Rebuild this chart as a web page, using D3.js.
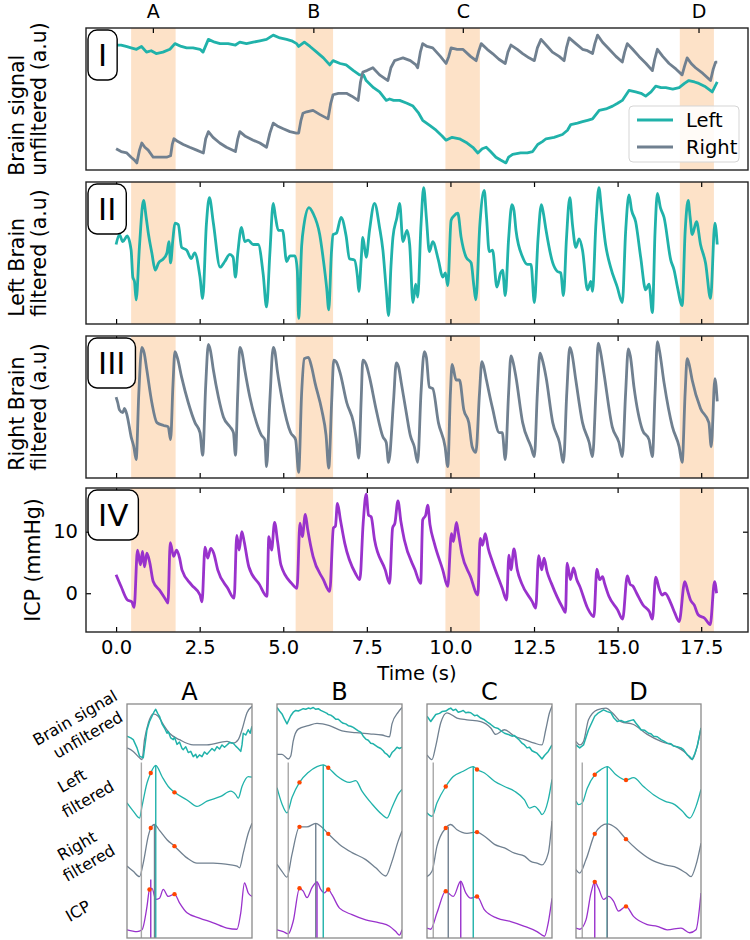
<!DOCTYPE html>
<html><head><meta charset="utf-8">
<script src="https://cdn.jsdelivr.net/npm/d3@7"></script>
<style>body{margin:0;background:#fff} text{font-family:"DejaVu Sans",sans-serif;fill:#000}</style>
</head><body><svg id="c" width="750" height="940"></svg>
<script>
// ---------------- DATA ----------------
const xTicks = [0, 2.5, 5, 7.5, 10, 12.5, 15, 17.5];
const icpTicks = [0, 10];
const bandNames = ["A", "B", "C", "D"];
const bandStart = [0.45, 5.37, 9.85, 16.86];
const bandEnd = [1.78, 6.49, 10.88, 17.88];
const bandLabelT = [1.1, 5.9, 10.37, 17.42];
const panelNames = ["I", "II", "III", "IV"];
const legendNames = ["Left", "Right"];

// Panel I: unfiltered brain signals (a.u, 0-100)
const leftRaw = [[0.00,88],[0.15,88],[0.30,87],[0.45,86],[0.61,85],[0.76,87],[0.91,83],[1.05,84],[1.20,82],[1.40,83],[1.61,85],[1.76,89],[1.95,87],[2.11,86],[2.30,86],[2.51,85],[2.60,83],[2.76,92],[2.95,90],[3.11,89],[3.35,89],[3.57,88],[3.70,90],[3.90,89],[4.10,90],[4.30,91],[4.50,92],[4.70,95],[4.90,93],[5.10,92],[5.25,91],[5.40,89],[5.46,87],[5.63,90],[5.80,87],[6.00,83],[6.20,79],[6.39,74],[6.49,77],[6.70,75],[6.88,74],[7.10,70],[7.28,67],[7.40,67],[7.48,63],[7.70,58],[7.88,55],[8.08,49],[8.18,50],[8.30,49],[8.48,49],[8.70,47],[8.88,45],[9.05,40],[9.17,35],[9.40,31],[9.57,28],[9.75,24],[9.87,21],[10.05,23],[10.27,22],[10.50,19],[10.67,16],[10.82,12],[10.95,15],[11.07,16],[11.20,13],[11.36,9],[11.50,7],[11.66,5],[11.74,9],[11.86,11],[12.10,12],[12.30,12],[12.46,13],[12.61,18],[12.75,20],[12.86,22],[13.10,23],[13.35,25],[13.50,28],[13.60,32],[13.80,33],[13.95,34],[14.10,35],[14.25,36],[14.45,42],[14.65,43],[14.85,45],[15.00,47],[15.14,49],[15.34,56],[15.54,55],[15.70,54],[15.84,52],[16.00,55],[16.14,59],[16.30,58],[16.44,58],[16.65,57],[16.84,58],[17.00,61],[17.13,63],[17.30,62],[17.43,61],[17.60,59],[17.83,55],[17.98,62]];
const rightRaw = [[0.00,15],[0.15,13],[0.32,12],[0.45,9],[0.55,7],[0.62,5],[0.70,14],[0.77,19],[0.86,16],[0.96,14],[1.11,9],[1.30,9],[1.51,9],[1.63,10],[1.68,18],[1.73,22],[1.85,20],[2.01,18],[2.20,16],[2.41,14],[2.61,12],[2.68,22],[2.76,27],[2.90,23],[3.10,19],[3.30,16],[3.57,13],[3.64,22],[3.70,27],[3.85,24],[4.10,21],[4.30,19],[4.50,16],[4.60,26],[4.70,33],[4.82,31],[5.00,29],[5.20,27],[5.39,26],[5.46,26],[5.53,35],[5.59,40],[5.70,41],[5.89,42],[6.10,39],[6.34,36],[6.42,47],[6.49,53],[6.65,54],[6.89,54],[7.05,52],[7.24,49],[7.31,62],[7.38,69],[7.50,70],[7.68,72],[7.88,67],[8.13,63],[8.22,72],[8.33,77],[8.45,78],[8.58,79],[8.80,77],[8.97,74],[9.02,72],[9.10,83],[9.17,89],[9.30,87],[9.47,86],[9.70,80],[9.87,75],[9.95,80],[10.02,86],[10.20,85],[10.37,85],[10.60,80],[10.77,77],[10.85,84],[10.92,89],[11.10,85],[11.26,82],[11.45,78],[11.64,75],[11.72,83],[11.81,88],[12.00,85],[12.16,82],[12.35,79],[12.51,77],[12.60,86],[12.71,92],[12.90,87],[13.05,83],[13.25,80],[13.40,77],[13.47,86],[13.55,93],[13.75,89],[13.95,85],[14.10,84],[14.25,82],[14.32,89],[14.40,95],[14.55,90],[14.75,85],[14.95,80],[15.14,76],[15.21,83],[15.29,89],[15.45,85],[15.64,80],[15.85,75],[16.04,70],[16.11,78],[16.19,85],[16.35,80],[16.54,75],[16.75,71],[16.93,67],[17.00,73],[17.08,79],[17.20,75],[17.33,72],[17.55,68],[17.78,63],[17.86,71],[17.93,76],[17.98,76]];

// Panel II: Left brain filtered (a.u, 0-100)
const leftFilt = [[0.00,56],[0.10,63],[0.20,58],[0.33,62],[0.45,52],[0.50,33],[0.55,30],[0.60,17],[0.70,55],[0.82,87],[0.90,75],[0.97,63],[1.07,50],[1.17,38],[1.27,43],[1.42,46],[1.52,50],[1.58,58],[1.63,43],[1.70,60],[1.76,71],[1.86,70],[1.96,54],[2.11,52],[2.25,46],[2.35,50],[2.51,33],[2.59,18],[2.70,70],[2.79,89],[2.91,71],[3.11,40],[3.25,44],[3.40,49],[3.50,47],[3.57,33],[3.64,50],[3.75,68],[3.85,58],[3.95,59],[4.10,56],[4.25,56],[4.40,35],[4.50,12],[4.60,50],[4.70,85],[4.77,75],[4.85,66],[4.98,66],[5.10,44],[5.20,48],[5.35,48],[5.42,38],[5.46,4],[5.55,55],[5.62,70],[5.77,82],[5.89,78],[6.09,63],[6.20,45],[6.30,25],[6.36,10],[6.44,50],[6.49,63],[6.59,64],[6.73,75],[6.88,62],[6.98,46],[7.13,45],[7.22,33],[7.26,23],[7.33,45],[7.38,61],[7.48,47],[7.58,66],[7.73,85],[7.88,68],[7.98,52],[8.08,24],[8.15,6],[8.22,40],[8.28,61],[8.40,75],[8.48,85],[8.58,58],[8.70,66],[8.78,56],[8.88,15],[8.96,28],[9.02,19],[9.12,70],[9.20,96],[9.28,75],[9.37,51],[9.47,58],[9.64,45],[9.77,33],[9.85,36],[9.92,27],[10.02,73],[10.10,76],[10.22,78],[10.32,61],[10.47,47],[10.62,43],[10.70,27],[10.76,17],[10.88,70],[11.01,94],[11.08,75],[11.16,51],[11.26,52],[11.39,26],[11.50,36],[11.56,38],[11.64,20],[11.74,60],[11.84,84],[11.90,80],[11.96,66],[12.16,47],[12.30,42],[12.41,42],[12.51,15],[12.62,60],[12.72,84],[12.78,78],[12.86,66],[13.06,43],[13.20,37],[13.30,36],[13.38,20],[13.47,60],[13.57,89],[13.65,70],[13.75,54],[13.85,60],[13.95,52],[14.10,24],[14.20,30],[14.25,23],[14.35,70],[14.44,96],[14.52,80],[14.64,56],[14.79,40],[14.99,26],[15.14,15],[15.24,65],[15.34,91],[15.42,80],[15.54,72],[15.69,47],[15.84,24],[15.94,28],[16.04,8],[16.12,65],[16.19,92],[16.28,82],[16.39,75],[16.59,45],[16.69,38],[16.79,26],[16.93,13],[17.02,65],[17.11,87],[17.17,75],[17.23,63],[17.36,72],[17.48,56],[17.63,43],[17.78,18],[17.91,71],[17.98,56]];

// Panel III: Right brain filtered (a.u, 0-100)
const rightFilt = [[0.00,57],[0.05,53],[0.10,48],[0.20,46],[0.25,49],[0.33,44],[0.45,29],[0.53,22],[0.60,13],[0.68,60],[0.77,92],[0.84,88],[0.92,76],[1.07,53],[1.22,39],[1.42,37],[1.56,36],[1.63,27],[1.70,65],[1.76,89],[1.84,84],[1.96,71],[2.16,53],[2.36,39],[2.51,32],[2.59,16],[2.68,65],[2.76,94],[2.82,90],[2.91,76],[3.06,57],[3.21,43],[3.41,36],[3.51,32],[3.57,16],[3.64,60],[3.70,92],[3.76,89],[3.85,76],[4.00,57],[4.20,39],[4.35,30],[4.45,27],[4.50,8],[4.60,55],[4.70,92],[4.75,89],[4.82,76],[4.97,55],[5.22,32],[5.37,27],[5.46,4],[5.55,60],[5.63,84],[5.75,85],[5.85,78],[5.95,67],[6.15,48],[6.28,30],[6.36,7],[6.45,55],[6.51,83],[6.58,82],[6.70,74],[6.90,53],[7.10,39],[7.18,28],[7.26,14],[7.33,55],[7.38,83],[7.48,80],[7.58,71],[7.78,48],[7.98,29],[8.08,25],[8.15,11],[8.30,55],[8.38,81],[8.45,78],[8.53,67],[8.68,46],[8.80,30],[8.92,22],[9.02,11],[9.12,60],[9.22,89],[9.28,85],[9.37,64],[9.47,63],[9.64,39],[9.84,22],[9.92,8],[10.00,60],[10.05,80],[10.17,69],[10.27,69],[10.40,48],[10.55,39],[10.65,22],[10.76,18],[10.87,60],[10.94,82],[11.00,78],[11.06,71],[11.26,49],[11.46,32],[11.55,32],[11.64,13],[11.74,60],[11.81,86],[11.87,82],[11.96,71],[12.16,39],[12.41,22],[12.51,15],[12.60,60],[12.68,88],[12.74,84],[12.86,71],[13.06,39],[13.26,25],[13.38,11],[13.48,60],[13.57,92],[13.63,88],[13.75,69],[13.95,39],[14.15,25],[14.25,15],[14.35,60],[14.42,95],[14.48,90],[14.59,74],[14.84,36],[15.04,25],[15.14,15],[15.24,60],[15.32,91],[15.38,86],[15.49,64],[15.74,34],[15.94,27],[16.04,15],[16.12,60],[16.19,96],[16.25,90],[16.39,67],[16.64,36],[16.84,22],[16.93,11],[17.02,60],[17.08,84],[17.14,80],[17.23,69],[17.48,49],[17.73,39],[17.80,22],[17.91,70],[17.98,54]];

// Panel IV: ICP (mmHg)
const icp = [[0.00,3.0],[0.15,1.1],[0.34,-1.1],[0.47,-1.4],[0.54,-2.3],[0.64,7.0],[0.73,4.6],[0.79,6.8],[0.85,4.3],[0.92,6.5],[1.01,4.9],[1.11,1.9],[1.30,0.5],[1.49,-1.1],[1.55,-1.6],[1.62,8.2],[1.72,6.0],[1.81,7.0],[1.90,5.7],[1.97,3.8],[2.25,1.4],[2.51,-0.3],[2.57,-1.4],[2.66,7.5],[2.74,5.7],[2.83,7.3],[2.92,6.5],[3.04,3.8],[3.34,0.8],[3.53,-0.8],[3.61,9.4],[3.68,7.0],[3.76,10.0],[3.83,8.4],[3.97,4.3],[4.29,1.4],[4.51,-0.5],[4.57,9.2],[4.65,7.0],[4.74,11.5],[4.83,8.4],[4.93,4.6],[5.25,1.6],[5.41,0.8],[5.50,11.4],[5.57,9.2],[5.66,12.8],[5.73,10.4],[5.89,6.0],[6.20,2.2],[6.39,0.3],[6.50,10.6],[6.56,10.9],[6.62,14.6],[6.71,11.9],[6.84,8.1],[7.16,3.2],[7.29,2.2],[7.39,11.4],[7.48,16.1],[7.55,12.7],[7.63,12.4],[7.73,8.7],[8.05,3.8],[8.18,1.6],[8.27,10.6],[8.34,11.4],[8.43,15.0],[8.52,11.6],[8.62,8.7],[8.94,3.8],[9.11,1.6],[9.17,11.9],[9.26,12.7],[9.32,14.3],[9.39,11.1],[9.52,8.1],[9.77,3.8],[9.92,1.1],[10.03,9.7],[10.09,8.4],[10.18,11.5],[10.24,9.7],[10.34,6.5],[10.60,2.7],[10.82,-0.3],[10.89,8.9],[10.96,7.8],[11.04,9.7],[11.13,7.3],[11.24,5.4],[11.55,0.8],[11.68,-1.1],[11.75,6.2],[11.81,3.8],[11.90,7.2],[12.00,3.8],[12.13,1.6],[12.45,-1.4],[12.55,-2.4],[12.64,6.1],[12.73,3.8],[12.80,5.7],[12.89,3.5],[13.02,1.6],[13.34,-2.2],[13.44,-3.1],[13.49,4.9],[13.59,2.2],[13.68,4.1],[13.78,2.2],[13.87,1.1],[14.10,-2.4],[14.29,-3.8],[14.38,3.9],[14.46,2.2],[14.55,2.7],[14.61,1.6],[14.74,-0.5],[15.00,-2.7],[15.15,-4.2],[15.29,2.8],[15.38,1.4],[15.45,1.2],[15.57,0.0],[15.76,-1.9],[15.95,-3.0],[16.04,-4.2],[16.14,2.6],[16.24,0.8],[16.33,-0.3],[16.42,0.0],[16.59,-1.6],[16.71,-3.2],[16.84,-4.6],[17.01,1.9],[17.10,0.3],[17.18,-1.1],[17.29,-1.9],[17.41,-3.5],[17.61,-4.1],[17.77,-5.1],[17.90,1.9],[17.96,0.0]];

// Mini panels: one beat each, phase 0-1, amplitude 0-1 per trace
const miniA_rawL = [[0,0.45],[0.03,0.42],[0.05,0.39],[0.08,0.25],[0.10,0.11],[0.13,0.08],[0.16,0.56],[0.18,0.70],[0.20,0.79],[0.215,0.86],[0.23,0.91],[0.245,0.84],[0.26,0.79],[0.28,0.66],[0.30,0.59],[0.32,0.50],[0.33,0.53],[0.35,0.42],[0.37,0.39],[0.38,0.43],[0.40,0.31],[0.42,0.35],[0.44,0.24],[0.45,0.22],[0.47,0.27],[0.49,0.17],[0.51,0.19],[0.53,0.10],[0.55,0.14],[0.56,0.08],[0.58,0.13],[0.60,0.10],[0.62,0.18],[0.64,0.14],[0.66,0.19],[0.68,0.24],[0.70,0.20],[0.72,0.27],[0.74,0.23],[0.76,0.30],[0.78,0.26],[0.80,0.30],[0.82,0.34],[0.85,0.33],[0.87,0.28],[0.89,0.24],[0.91,0.19],[0.92,0.30],[0.93,0.50],[0.95,0.47],[0.97,0.56],[0.985,0.50],[1.0,0.62]];
const miniA_rawR = [[0,0.25],[0.05,0.19],[0.10,0.08],[0.12,0.05],[0.14,0.39],[0.17,0.67],[0.21,0.83],[0.25,0.79],[0.29,0.65],[0.34,0.50],[0.42,0.39],[0.53,0.30],[0.64,0.30],[0.80,0.36],[0.85,0.33],[0.89,0.39],[0.92,0.56],[0.96,0.85],[1.0,0.96]];
const miniA_left = [[0,0.31],[0.05,0.17],[0.10,0.05],[0.12,0.25],[0.16,0.65],[0.19,0.82],[0.23,0.95],[0.28,0.76],[0.33,0.59],[0.38,0.49],[0.48,0.36],[0.56,0.25],[0.64,0.34],[0.75,0.42],[0.83,0.51],[0.87,0.45],[0.89,0.39],[0.92,0.59],[0.97,0.76],[1.0,0.75]];
const miniA_right = [[0,0.23],[0.05,0.14],[0.10,0.05],[0.13,0.28],[0.17,0.74],[0.19,0.88],[0.22,0.94],[0.26,0.84],[0.32,0.68],[0.38,0.57],[0.48,0.37],[0.56,0.28],[0.69,0.28],[0.83,0.25],[0.88,0.23],[0.90,0.20],[0.93,0.45],[0.97,0.79],[1.0,0.96]];
const miniA_icp = [[0,0.14],[0.08,0.11],[0.12,0.14],[0.16,0.54],[0.18,0.83],[0.20,0.85],[0.23,0.66],[0.26,0.68],[0.29,0.83],[0.33,0.71],[0.38,0.75],[0.42,0.60],[0.48,0.43],[0.58,0.34],[0.69,0.26],[0.80,0.17],[0.88,0.15],[0.91,0.43],[0.94,0.94],[0.97,0.77],[1.0,0.71]];

const miniB_rawL = [[0,0.94],[0.02,0.88],[0.04,0.83],[0.06,0.74],[0.08,0.66],[0.11,0.80],[0.13,0.86],[0.15,0.89],[0.17,0.88],[0.19,0.90],[0.21,0.92],[0.23,0.91],[0.25,0.93],[0.27,0.92],[0.29,0.94],[0.31,0.91],[0.33,0.92],[0.35,0.89],[0.38,0.86],[0.40,0.84],[0.41,0.82],[0.43,0.81],[0.45,0.78],[0.47,0.74],[0.49,0.74],[0.51,0.70],[0.53,0.67],[0.55,0.66],[0.57,0.63],[0.59,0.62],[0.61,0.60],[0.63,0.57],[0.65,0.54],[0.67,0.52],[0.69,0.45],[0.71,0.40],[0.73,0.38],[0.75,0.33],[0.77,0.32],[0.79,0.29],[0.81,0.26],[0.83,0.24],[0.85,0.20],[0.86,0.17],[0.88,0.14],[0.90,0.09],[0.92,0.17],[0.94,0.21],[0.96,0.26],[0.98,0.24],[1.0,0.26]];
const miniB_rawR = [[0,0.14],[0.04,0.14],[0.09,0.06],[0.11,0.11],[0.13,0.37],[0.17,0.57],[0.25,0.63],[0.32,0.67],[0.42,0.63],[0.52,0.54],[0.63,0.51],[0.74,0.49],[0.84,0.47],[0.90,0.44],[0.92,0.66],[0.97,0.86],[1.0,0.94]];
const miniB_left = [[0,0.57],[0.04,0.29],[0.08,0.14],[0.12,0.40],[0.18,0.66],[0.25,0.83],[0.32,0.93],[0.37,0.96],[0.41,0.91],[0.48,0.77],[0.58,0.66],[0.63,0.69],[0.68,0.51],[0.76,0.29],[0.84,0.11],[0.88,0.05],[0.92,0.23],[0.97,0.46],[1.0,0.54]];
const miniB_right = [[0,0.26],[0.04,0.14],[0.08,0.04],[0.12,0.43],[0.18,0.90],[0.24,0.90],[0.31,0.96],[0.35,0.91],[0.41,0.78],[0.50,0.60],[0.60,0.46],[0.71,0.34],[0.79,0.20],[0.87,0.06],[0.92,0.31],[0.97,0.66],[1.0,0.83]];
const miniB_icp = [[0,0.14],[0.05,0.11],[0.09,0.07],[0.13,0.29],[0.18,0.85],[0.21,0.80],[0.24,0.69],[0.28,0.86],[0.32,0.96],[0.35,0.83],[0.38,0.77],[0.41,0.83],[0.44,0.74],[0.50,0.51],[0.60,0.40],[0.71,0.31],[0.82,0.26],[0.90,0.20],[0.95,0.11],[0.98,0.05],[1.0,0.14]];

const miniC_rawL = [[0,0.79],[0.03,0.70],[0.05,0.76],[0.07,0.82],[0.10,0.84],[0.12,0.87],[0.15,0.88],[0.17,0.91],[0.19,0.93],[0.21,0.89],[0.23,0.91],[0.25,0.86],[0.27,0.87],[0.29,0.89],[0.31,0.85],[0.33,0.86],[0.35,0.85],[0.38,0.80],[0.40,0.81],[0.43,0.76],[0.46,0.73],[0.49,0.68],[0.51,0.65],[0.54,0.60],[0.57,0.58],[0.60,0.53],[0.62,0.50],[0.65,0.48],[0.68,0.45],[0.70,0.46],[0.72,0.42],[0.74,0.38],[0.76,0.33],[0.78,0.30],[0.80,0.25],[0.82,0.26],[0.84,0.20],[0.86,0.18],[0.88,0.16],[0.90,0.11],[0.92,0.06],[0.94,0.12],[0.97,0.19],[1.0,0.30]];
const miniC_rawR = [[0,0.13],[0.04,0.05],[0.07,0.28],[0.11,0.68],[0.16,0.85],[0.24,0.76],[0.32,0.73],[0.43,0.70],[0.51,0.59],[0.55,0.48],[0.62,0.56],[0.70,0.45],[0.78,0.39],[0.86,0.33],[0.92,0.30],[0.95,0.56],[0.98,0.85],[1.0,0.96]];
const miniC_left = [[0,0.14],[0.04,0.08],[0.08,0.31],[0.15,0.59],[0.21,0.76],[0.29,0.85],[0.37,0.93],[0.40,0.88],[0.46,0.82],[0.54,0.68],[0.62,0.59],[0.70,0.51],[0.78,0.36],[0.82,0.22],[0.86,0.25],[0.90,0.17],[0.92,0.11],[0.97,0.36],[1.0,0.71]];
const miniC_right = [[0,0.05],[0.04,0.14],[0.08,0.57],[0.15,0.88],[0.19,0.94],[0.24,0.85],[0.32,0.79],[0.40,0.81],[0.46,0.74],[0.54,0.60],[0.62,0.54],[0.70,0.45],[0.78,0.40],[0.83,0.31],[0.88,0.28],[0.92,0.25],[0.97,0.45],[1.0,1.0]];
const miniC_icp = [[0,0.17],[0.03,0.15],[0.08,0.43],[0.15,0.80],[0.17,0.77],[0.21,0.71],[0.27,0.97],[0.31,0.77],[0.35,0.68],[0.40,0.71],[0.46,0.48],[0.56,0.34],[0.67,0.28],[0.78,0.20],[0.88,0.11],[0.94,0.03],[0.97,0.26],[1.0,0.68]];

const miniD_rawL = [[0,0.30],[0.03,0.25],[0.06,0.30],[0.10,0.56],[0.15,0.79],[0.18,0.85],[0.22,0.90],[0.25,0.87],[0.28,0.85],[0.30,0.77],[0.33,0.70],[0.36,0.72],[0.39,0.69],[0.41,0.70],[0.44,0.72],[0.46,0.73],[0.48,0.67],[0.50,0.62],[0.52,0.56],[0.55,0.55],[0.58,0.50],[0.60,0.49],[0.62,0.45],[0.65,0.44],[0.68,0.39],[0.70,0.37],[0.73,0.33],[0.76,0.32],[0.78,0.28],[0.81,0.27],[0.84,0.25],[0.86,0.22],[0.89,0.13],[0.91,0.10],[0.93,0.05],[0.95,0.15],[0.97,0.28],[1.0,0.59]];
const miniD_rawR = [[0,0.36],[0.03,0.30],[0.06,0.36],[0.10,0.73],[0.17,0.90],[0.24,0.93],[0.29,0.85],[0.36,0.70],[0.46,0.65],[0.57,0.48],[0.68,0.36],[0.79,0.28],[0.88,0.16],[0.93,0.05],[0.97,0.28],[1.0,0.59]];
const miniD_left = [[0,0.34],[0.02,0.28],[0.05,0.31],[0.09,0.56],[0.15,0.79],[0.20,0.88],[0.25,0.93],[0.32,0.79],[0.40,0.70],[0.46,0.74],[0.54,0.59],[0.62,0.45],[0.71,0.34],[0.79,0.28],[0.85,0.17],[0.91,0.05],[0.96,0.25],[1.0,0.54]];
const miniD_right = [[0,0.17],[0.03,0.11],[0.08,0.34],[0.15,0.78],[0.20,0.91],[0.25,0.95],[0.32,0.88],[0.40,0.69],[0.49,0.51],[0.60,0.34],[0.71,0.25],[0.81,0.20],[0.88,0.11],[0.92,0.05],[0.96,0.25],[1.0,0.62]];
const miniD_icp = [[0,0.17],[0.03,0.15],[0.08,0.31],[0.12,0.77],[0.15,0.96],[0.18,0.85],[0.22,0.66],[0.26,0.71],[0.30,0.63],[0.34,0.46],[0.40,0.54],[0.46,0.37],[0.57,0.23],[0.65,0.20],[0.73,0.14],[0.84,0.17],[0.91,0.09],[0.96,0.14],[1.0,0.77]];

// feature points (phase, amplitude)
const miniOnset = [0.115, 0.09, 0.05, 0.05];
const miniLeftPeak = [[0.23,0.95],[0.37,0.96],[0.37,0.93],[0.25,0.93]];
const miniRightPeak = [[0.22,0.94],[0.31,0.96],[0.17,0.90],[0.25,0.95]];
const miniIcpPeak = [[0.19,1.0],[0.32,0.96],[0.27,0.97],[0.15,0.96]];
const miniLeftDots = [[[0.19,0.82],[0.38,0.49]],[[0.18,0.66],[0.41,0.91]],[[0.15,0.59],[0.40,0.88]],[[0.15,0.79],[0.40,0.70]]];
const miniRightDots = [[[0.19,0.88],[0.38,0.57]],[[0.18,0.90],[0.41,0.78]],[[0.15,0.88],[0.40,0.81]],[[0.15,0.78],[0.40,0.69]]];
const miniIcpDots = [[[0.18,0.83],[0.38,0.75]],[[0.18,0.85],[0.41,0.83]],[[0.15,0.80],[0.40,0.71]],[[0.15,0.96],[0.40,0.54]]];
const miniRowLabels = [["Brain signal","unfiltered"],["Left","filtered"],["Right","filtered"],["ICP"]];

// ---------------- DRAWING ----------------
const TEAL = "#20b2aa", SLATE = "#708090", PURPLE = "#9932cc", BAND = "#fde2c8", DOT = "#ff4500";
const FS = "19.5px";
const svg = d3.select("#c");
const X0 = 86, X1 = 748;
const x = d3.scaleLinear().domain([-0.9, 18.9]).range([X0, X1]);

const panels = [
  {top: 28, bottom: 170, dom: [0, 100], label: ["Brain signal", "unfiltered (a.u)"], curve: d3.curveLinear},
  {top: 182, bottom: 324, dom: [0, 100], label: ["Left Brain", "filtered (a.u)"], curve: d3.curveMonotoneX},
  {top: 336, bottom: 478, dom: [0, 100], label: ["Right Brain", "filtered (a.u)"], curve: d3.curveMonotoneX},
  {top: 488, bottom: 632, dom: [-6.3, 17.1], label: ["ICP (mmHg)"], curve: d3.curveMonotoneX}
];
const series = [
  [[leftRaw, TEAL], [rightRaw, SLATE]],
  [[leftFilt, TEAL]],
  [[rightFilt, SLATE]],
  [[icp, PURPLE]]
];

panels.forEach((p, i) => {
  const y = d3.scaleLinear().domain(p.dom).range([p.bottom, p.top]);
  const g = svg.append("g");
  const cid = "clip" + i;
  svg.append("clipPath").attr("id", cid).append("rect")
    .attr("x", X0).attr("y", p.top).attr("width", X1 - X0).attr("height", p.bottom - p.top);
  g.selectAll("rect.band").data(bandStart).join("rect")
    .attr("x", (d) => x(d)).attr("width", (d, j) => x(bandEnd[j]) - x(d))
    .attr("y", p.top).attr("height", p.bottom - p.top).attr("fill", BAND);
  const line = d3.line().x(d => x(d[0])).y(d => y(d[1])).curve(p.curve);
  series[i].forEach(([data, col]) => {
    g.append("path").datum(data).attr("d", line).attr("fill", "none")
      .attr("stroke", col).attr("stroke-width", 2.8).attr("stroke-linejoin", "round")
      .attr("clip-path", `url(#${cid})`);
  });
  if (i === 0) {
    const ax = d3.axisTop(x).tickValues(bandLabelT).tickSize(-5).tickPadding(10)
      .tickFormat((d, j) => bandNames[j]);
    const ga = svg.append("g").attr("transform", `translate(0,${p.top})`).call(ax);
    ga.select(".domain").remove();
    ga.selectAll("text").style("font-size", "19px").attr("font-family", "DejaVu Sans");
    ga.selectAll("line").attr("stroke-width", 1.2);
  } else {
    const at = d3.axisTop(x).tickValues(xTicks).tickSize(-5).tickFormat("");
    const ga = svg.append("g").attr("transform", `translate(0,${p.top})`).call(at);
    ga.select(".domain").remove(); ga.selectAll("line").attr("stroke-width", 1.2);
    const ab = d3.axisBottom(x).tickValues(xTicks).tickSize(-5).tickPadding(8)
      .tickFormat(i === 3 ? d3.format(".1f") : "");
    const gb = svg.append("g").attr("transform", `translate(0,${p.bottom})`).call(ab);
    gb.select(".domain").remove(); gb.selectAll("line").attr("stroke-width", 1.2);
    gb.selectAll("text").style("font-size", FS).attr("font-family", "DejaVu Sans");
  }
  if (i === 3) {
    const al = d3.axisLeft(y).tickValues(icpTicks).tickSize(-5).tickPadding(8);
    const gl = svg.append("g").attr("transform", `translate(${X0},0)`).call(al);
    gl.select(".domain").remove(); gl.selectAll("line").attr("stroke-width", 1.2);
    gl.selectAll("text").style("font-size", FS).attr("font-family", "DejaVu Sans");
    const ar = d3.axisRight(y).tickValues(icpTicks).tickSize(-5).tickFormat("");
    const gr = svg.append("g").attr("transform", `translate(${X1},0)`).call(ar);
    gr.select(".domain").remove(); gr.selectAll("line").attr("stroke-width", 1.2);
  }
  svg.append("rect").attr("x", X0).attr("y", p.top).attr("width", X1 - X0).attr("height", p.bottom - p.top)
    .attr("fill", "none").attr("stroke", "#222").attr("stroke-width", 1.4);
  const rb = svg.append("g");
  const rt = rb.append("text").text(panelNames[i]).style("font-size", "31px")
    .attr("x", X0 + 12).attr("y", p.top + 2 + 25 + 11);
  const w = rt.node().getComputedTextLength();
  rb.insert("rect", "text").attr("x", X0 + 2).attr("y", p.top + 2).attr("width", w + 20).attr("height", 50)
    .attr("rx", 9).attr("fill", "#fff").attr("stroke", "#000").attr("stroke-width", 1.4);
  const cy = (p.top + p.bottom) / 2;
  const xs = p.label.length === 2 ? [24, 46] : [40];
  const texts = p.label.map((s, k) => svg.append("text").text(s).style("font-size", "20.5px")
    .attr("transform", `translate(${xs[k]},${cy}) rotate(-90)`));
  const lens = texts.map(t => t.node().getComputedTextLength());
  const L = Math.max(...lens);
  texts.forEach(t => t.attr("x", -L / 2));
});

// legend
const lg = svg.append("g");
lg.append("rect").attr("x", 629).attr("y", 106).attr("width", 110).attr("height", 56).attr("rx", 4)
  .attr("fill", "#fff").attr("fill-opacity", 0.85).attr("stroke", "#d5d5d5");
[TEAL, SLATE].forEach((c, k) => {
  const yy = 120 + k * 27;
  lg.append("line").attr("x1", 637).attr("x2", 673).attr("y1", yy).attr("y2", yy)
    .attr("stroke", c).attr("stroke-width", 2.8);
  lg.append("text").attr("x", 686).attr("y", yy + 7).text(legendNames[k]).style("font-size", FS);
});

svg.append("text").attr("x", (X0 + X1) / 2).attr("y", 680).attr("text-anchor", "middle")
  .text("Time (s)").style("font-size", FS);

// ---------------- MINI PANELS ----------------
const miniX0 = [127, 277, 427, 576];
const MW = 125, MT = 704, MB = 938;
const my = d3.scaleLinear().domain([0, 4]).range([MB, MT]);
const miniData = [
  [miniA_rawL, miniA_rawR, miniA_left, miniA_right, miniA_icp],
  [miniB_rawL, miniB_rawR, miniB_left, miniB_right, miniB_icp],
  [miniC_rawL, miniC_rawR, miniC_left, miniC_right, miniC_icp],
  [miniD_rawL, miniD_rawR, miniD_left, miniD_right, miniD_icp]
];
miniX0.forEach((x0, i) => {
  const mx = d3.scaleLinear().domain([0, 1]).range([x0, x0 + MW]);
  const cid = "mclip" + i;
  svg.append("clipPath").attr("id", cid).append("rect")
    .attr("x", x0).attr("y", MT).attr("width", MW).attr("height", MB - MT);
  const g = svg.append("g").attr("clip-path", `url(#${cid})`);
  const mk = (off, curve) => d3.line().x(d => mx(d[0])).y(d => my(off + d[1])).curve(curve);
  const [rawL, rawR, lf, rf, ic] = miniData[i];
  const draw = (data, off, col, curve, sw) => g.append("path").datum(data).attr("d", mk(off, curve))
    .attr("fill", "none").attr("stroke", col).attr("stroke-width", sw).attr("stroke-linejoin", "round");
  draw(rawR, 3, SLATE, d3.curveMonotoneX, 1.3);
  draw(rawL, 3, TEAL, d3.curveLinear, 1.5);
  draw(lf, 2, TEAL, d3.curveMonotoneX, 1.3);
  draw(rf, 1, SLATE, d3.curveMonotoneX, 1.3);
  draw(ic, 0, PURPLE, d3.curveMonotoneX, 1.3);
  const vline = (u, top, col) => g.append("line").attr("x1", mx(u)).attr("x2", mx(u))
    .attr("y1", my(top)).attr("y2", MB).attr("stroke", col).attr("stroke-width", 1.4);
  vline(miniOnset[i], 3, "#a8a8a8");
  vline(miniLeftPeak[i][0], 2 + miniLeftPeak[i][1], TEAL);
  vline(miniRightPeak[i][0], 1 + miniRightPeak[i][1], SLATE);
  vline(miniIcpPeak[i][0], miniIcpPeak[i][1], PURPLE);
  const dots = [].concat(
    miniLeftDots[i].map(d => [d[0], 2 + d[1]]),
    miniRightDots[i].map(d => [d[0], 1 + d[1]]),
    miniIcpDots[i].map(d => [d[0], d[1]]));
  g.selectAll("circle").data(dots).join("circle")
    .attr("cx", d => mx(d[0])).attr("cy", d => my(d[1])).attr("r", 2.2).attr("fill", DOT);
  svg.append("rect").attr("x", x0).attr("y", MT).attr("width", MW).attr("height", MB - MT)
    .attr("fill", "none").attr("stroke", "#8a8a8a").attr("stroke-width", 1.3);
  svg.append("text").attr("x", x0 + MW / 2).attr("y", 700).attr("text-anchor", "middle")
    .text(bandNames[i]).style("font-size", "24px");
});

const rowLabelPos = [[[75, 718], [88, 735]], [[72, 781], [88, 799]], [[77, 846], [89, 863]], [[78, 911]]];
miniRowLabels.forEach((lines, r) => {
  lines.forEach((s, k) => {
    const [px, py] = rowLabelPos[r][k];
    svg.append("text").text(s).style("font-size", "16px").attr("text-anchor", "middle")
      .attr("dominant-baseline", "central")
      .attr("transform", `translate(${px},${py}) rotate(-30)`);
  });
});
</script></body></html>
